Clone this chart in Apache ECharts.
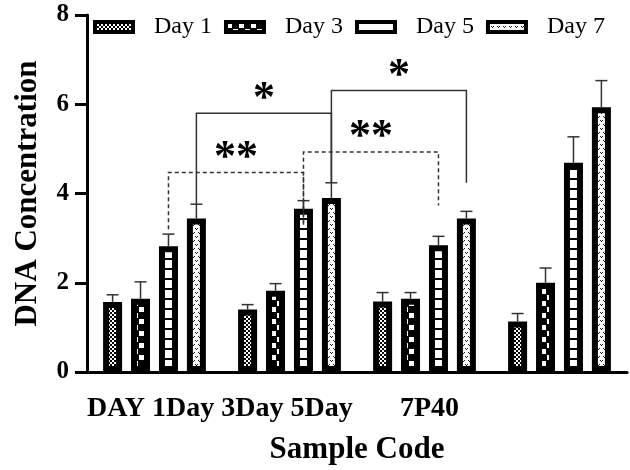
<!DOCTYPE html>
<html><head><meta charset="utf-8">
<script src="https://cdn.jsdelivr.net/npm/echarts@6/dist/echarts.min.js"></script>
<style>html,body{margin:0;padding:0;background:#fff}#c{width:630px;height:470px}</style>
</head><body><div id="c"></div>
<script>
// ---- data ----
const categories = ['Group 1', 'Group 2', 'Group 3', 'Group 4'];
const seriesNames = ['Day 1', 'Day 3', 'Day 5', 'Day 7'];
const day1 = [1.57, 1.40, 1.58, 1.13];
const day1Err = [0.16, 0.11, 0.20, 0.18];
const day3 = [1.64, 1.82, 1.64, 2.00];
const day3Err = [0.38, 0.16, 0.14, 0.33];
const day5 = [2.82, 3.66, 2.84, 4.69];
const day5Err = [0.27, 0.18, 0.20, 0.58];
const day7 = [3.44, 3.90, 3.44, 5.93];
const day7Err = [0.32, 0.34, 0.16, 0.60];
const xTickLabels = ['DAY 1Day 3Day 5Day', '7P40'];
const yAxisTitle = 'DNA Concentration';
const xAxisTitle = 'Sample Code';
// significance brackets: from/to category, bar (series index), bracket height, left & right drop ends
const sigFrom = [0, 1, 0, 1];
const sigTo = [1, 2, 1, 2];
const sigBar = [3, 3, 2, 2];
const sigY = [5.80, 6.31, 4.47, 4.93];
const sigLeftEnd = [3.76, 4.24, 3.20, 3.30];
const sigRightEnd = [4.24, 4.24, 3.30, 3.73];
const sigLabels = ['*', '*', '**', '**'];
const sigDashed = [false, false, true, true];

// ---- styles ----
const SERIF = "'Liberation Serif','Times New Roman',serif";
const BAR_W = 19, BAR_GAP = '47%', BAR_STEP = 19 * 1.47;

function makePattern(kind) {
  const c = document.createElement('canvas');
  let ctx;
  if (kind === 0) { // fine checker
    c.width = 4; c.height = 4; ctx = c.getContext('2d');
    ctx.fillStyle = '#000'; ctx.fillRect(0, 0, 4, 4);
    ctx.fillStyle = '#fff'; ctx.fillRect(0, 0, 2, 2); ctx.fillRect(2, 2, 2, 2);
  } else if (kind === 1) { // big checker
    c.width = 12; c.height = 12; ctx = c.getContext('2d');
    ctx.fillStyle = '#000'; ctx.fillRect(0, 0, 12, 12);
    ctx.fillStyle = '#fff'; ctx.fillRect(1, 1, 5, 5); ctx.fillRect(7, 7, 5, 5);
  } else if (kind === 2) { // horizontal stripes
    c.width = 10; c.height = 10; ctx = c.getContext('2d');
    ctx.fillStyle = '#fff'; ctx.fillRect(0, 0, 10, 10);
    ctx.fillStyle = '#000'; ctx.fillRect(0, 8, 10, 2);
  } else { // small chevrons
    c.width = 6; c.height = 8; ctx = c.getContext('2d');
    ctx.fillStyle = '#fff'; ctx.fillRect(0, 0, 6, 8);
    ctx.fillStyle = '#222';
    ctx.fillRect(0, 0, 1, 1); ctx.fillRect(2, 0, 1, 1); ctx.fillRect(1, 1, 1, 1);
    ctx.fillRect(3, 4, 1, 1); ctx.fillRect(5, 4, 1, 1); ctx.fillRect(4, 5, 1, 1);
  }
  return { image: c, repeat: 'repeat' };
}

const values = [day1, day3, day5, day7];
const errs = [day1Err, day3Err, day5Err, day7Err];

const series = [];
values.forEach((v, k) => {
  series.push({
    name: seriesNames[k], type: 'bar', data: v,
    barWidth: BAR_W, barGap: BAR_GAP,
    itemStyle: { color: makePattern(k), borderColor: '#000', borderWidth: 6 },
    emphasis: { disabled: true }, animation: false
  });
});
values.forEach((v, k) => {
  series.push({
    name: 'err' + k, type: 'custom', animation: false, silent: true, z: 3,
    data: v.map((val, i) => [i, val + errs[k][i], val]),
    encode: { x: 0, y: [1, 2] },
    renderItem: function (params, api) {
      const cat = api.value(0);
      const pTop = api.coord([cat, api.value(1)]);
      const pBase = api.coord([cat, api.value(2)]);
      const x = pTop[0] + (k - 1.5) * BAR_STEP;
      const st = { stroke: '#333', lineWidth: 1.5 };
      return { type: 'group', children: [
        { type: 'line', shape: { x1: x, y1: pBase[1], x2: x, y2: pTop[1] }, style: st },
        { type: 'line', shape: { x1: x - 6, y1: pTop[1], x2: x + 6, y2: pTop[1] }, style: st }
      ] };
    }
  });
});
series.push({
  name: 'sig', type: 'custom', animation: false, silent: true, z: 4,
  data: sigY.map((y, i) => [sigFrom[i], y, sigTo[i], sigLeftEnd[i], sigRightEnd[i], i]),
  encode: { x: 0, y: 1 },
  renderItem: function (params, api) {
    const i = api.value(5);
    const off = (sigBar[i] - 1.5) * BAR_STEP;
    const pl = api.coord([api.value(0), api.value(1)]);
    const pr = api.coord([api.value(2), api.value(1)]);
    const yl = api.coord([api.value(0), api.value(3)])[1];
    const yr = api.coord([api.value(2), api.value(4)])[1];
    const xl = pl[0] + off, xr = pr[0] + off, y = pl[1];
    return { type: 'group', children: [
      { type: 'polyline', shape: { points: [[xl, yl], [xl, y], [xr, y], [xr, yr]] },
        style: { stroke: '#333', lineWidth: 1.5, fill: null, lineDash: sigDashed[i] ? [4, 3] : null } },
      { type: 'text', style: { text: sigLabels[i], x: (xl + xr) / 2, y: y - 14,
        font: 'bold 44px ' + SERIF, fill: '#000', align: 'center', verticalAlign: 'middle',
        textAlign: 'center', textVerticalAlign: 'middle' } }
    ] };
  }
});

const chart = echarts.init(document.getElementById('c'));
chart.setOption({
  animation: false,
  backgroundColor: '#fff',
  grid: { left: 87, right: 3, top: 15, bottom: 94, containLabel: false },
  legend: {
    data: seriesNames, left: 88, top: 10, icon: 'rect',
    itemWidth: 38, itemHeight: 10, itemGap: 12,
    itemStyle: { borderColor: '#000', borderWidth: 4 },
    textStyle: { fontFamily: SERIF, fontSize: 24, color: '#000', padding: [0, 0, 0, 16] },
    selectedMode: false
  },
  xAxis: {
    type: 'category', data: categories,
    name: xAxisTitle, nameLocation: 'middle', nameGap: 62,
    nameTextStyle: { fontFamily: SERIF, fontWeight: 'bold', fontSize: 31, color: '#000' },
    axisLine: { lineStyle: { color: '#000', width: 3 } },
    axisTick: { alignWithLabel: true, length: 10, lineStyle: { color: '#000', width: 3 } },
    axisLabel: { show: false },
    splitLine: { show: false }
  },
  yAxis: {
    type: 'value', min: 0, max: 8, interval: 2,
    name: yAxisTitle, nameLocation: 'middle', nameGap: 44, nameRotate: 90,
    nameTextStyle: { fontFamily: SERIF, fontWeight: 'bold', fontSize: 31, color: '#000' },
    axisLine: { show: true, lineStyle: { color: '#000', width: 3 } },
    axisTick: { show: true, length: 12, lineStyle: { color: '#000', width: 3 } },
    axisLabel: { fontFamily: SERIF, fontWeight: 'bold', fontSize: 25, color: '#000', margin: 18 },
    splitLine: { show: false }
  },
  graphic: [
    { type: 'text', x: 87, y: 409, style: { text: xTickLabels[0], font: 'bold 28px ' + SERIF, fill: '#000', textVerticalAlign: 'middle', verticalAlign: 'middle' } },
    { type: 'text', x: 400, y: 409, style: { text: xTickLabels[1], font: 'bold 28px ' + SERIF, fill: '#000', textVerticalAlign: 'middle', verticalAlign: 'middle' } }
  ],
  series: series
});
</script>
</body></html>
